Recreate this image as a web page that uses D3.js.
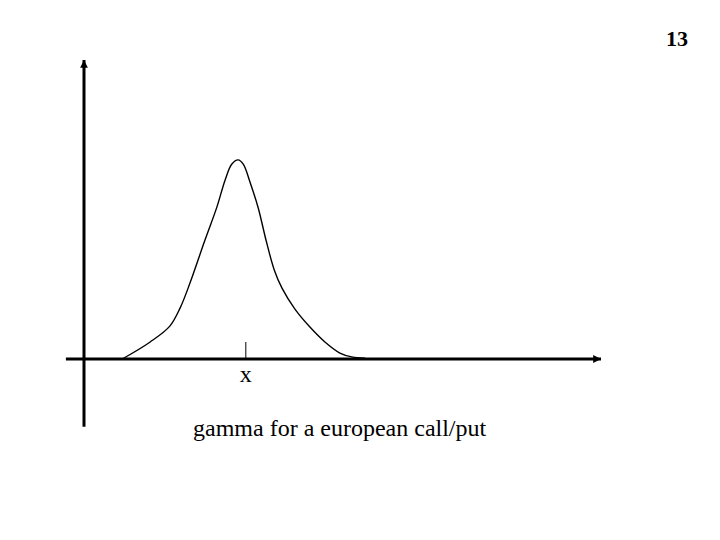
<!DOCTYPE html>
<html>
<head>
	<style>
	body {
		margin: 0;
		background: #fff;
	}
	</style>
</head>
<body>
	<script src="https://d3js.org/d3.v7.min.js"></script>
	<script>
	var width = 720, height = 540;
	var serif = "'Liberation Serif', 'Times New Roman', 'DejaVu Serif', serif";

	// gamma curve
	var xs = [7.4, 12.8, 16.6, 18.6, 20.5, 23.4, 25.7, 27.3, 28.6, 29.8, 30.8,
		32.1, 33.7, 35.2, 36.8, 38.3, 40.8, 43.7, 46.6, 49.5, 51.8, 54.4];
	var ys = [0, 5.7, 11.0, 17.1, 25.4, 39.8, 50.8, 59.9, 65.2, 66.6, 65.2,
		59.2, 50.5, 39.8, 29.8, 23.7, 16.7, 10.7, 5.7, 2.0, 0.7, 0.3];
	var tickX = [31.3];
	var tickLabels = ["x"];

	var svg = d3.select("body").append("svg")
		.attr("width", width)
		.attr("height", height);

	var x = d3.scaleLinear().domain([0, 100]).range([84, 601]);
	var y = d3.scaleLinear().domain([0, 100]).range([359, 60]);

	svg.append("defs").append("marker")
		.attr("id", "arrow")
		.attr("viewBox", "0 0 10 10")
		.attr("refX", 10)
		.attr("refY", 5)
		.attr("markerWidth", 2.6)
		.attr("markerHeight", 2.6)
		.attr("markerUnits", "strokeWidth")
		.attr("orient", "auto")
		.append("path")
		.attr("d", "M0,0L10,5L0,10z")
		.attr("fill", "#000");

	// axes
	svg.append("line")
		.attr("x1", x(0)).attr("x2", x(0))
		.attr("y1", y(-22.7)).attr("y2", y(100))
		.attr("stroke", "#000").attr("stroke-width", 3)
		.attr("marker-end", "url(#arrow)");

	svg.append("line")
		.attr("x1", x(-3.5)).attr("x2", x(100))
		.attr("y1", y(0)).attr("y2", y(0))
		.attr("stroke", "#000").attr("stroke-width", 3)
		.attr("marker-end", "url(#arrow)");

	// tick and label
	var tick = svg.selectAll(".tick")
		.data(tickX)
		.enter().append("g")
		.attr("class", "tick");

	tick.append("line")
		.attr("x1", function(d){ return x(d); })
		.attr("x2", function(d){ return x(d); })
		.attr("y1", y(0) - 17)
		.attr("y2", y(0))
		.attr("stroke", "#000")
		.attr("stroke-width", 1);

	tick.append("text")
		.attr("x", function(d){ return x(d); })
		.attr("y", 382)
		.attr("text-anchor", "middle")
		.attr("font-family", serif)
		.attr("font-size", 24)
		.text(function(d, i){ return tickLabels[i]; });

	// curve
	var line = d3.line()
		.x(function(d){ return x(d[0]); })
		.y(function(d){ return y(d[1]); })
		.curve(d3.curveCatmullRom.alpha(0.5));

	svg.append("path")
		.datum(d3.zip(xs, ys))
		.attr("d", line)
		.attr("fill", "none")
		.attr("stroke", "#000")
		.attr("stroke-width", 1.4);

	svg.append("text")
		.attr("x", 193)
		.attr("y", 436)
		.attr("font-family", serif)
		.attr("font-size", 24)
		.text("gamma for a european call/put");

	svg.append("text")
		.attr("x", 688)
		.attr("y", 46)
		.attr("text-anchor", "end")
		.attr("font-family", serif)
		.attr("font-size", 22)
		.attr("font-weight", "bold")
		.text("13");
	</script>
</body>
</html>
